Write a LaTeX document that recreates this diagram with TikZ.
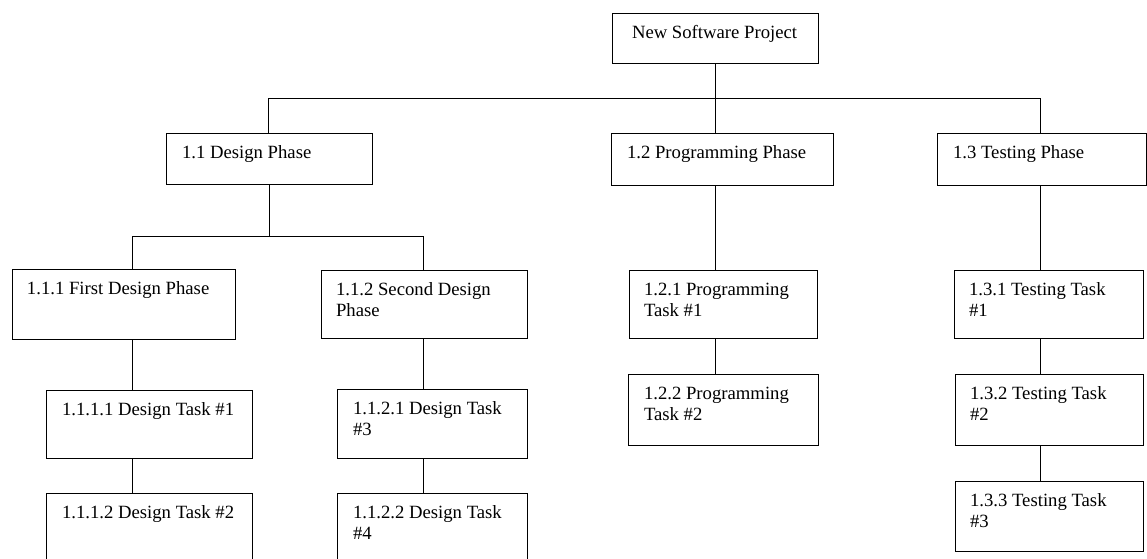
\documentclass[tikz,border=0pt]{standalone}
\usepackage{fontspec}
\setmainfont{Liberation Serif}
\usetikzlibrary{calc}
\tikzset{
  box/.style={draw, line width=1pt, inner sep=0pt, outer sep=0pt, anchor=north west},
  lbl/.style={inner sep=0pt, outer sep=0pt, anchor=north west, align=left,
              font=\fontsize{18.7}{21.5}\selectfont},
  conn/.style={line width=1pt}
}
\begin{document}
\begin{tikzpicture}[x=1pt, y=-1pt]
\useasboundingbox (0,0) rectangle (1147,558);
% boxes
\node[box, minimum width=206pt, minimum height=50pt] (root) at (612,13) {};
\node[box, minimum width=206pt, minimum height=51pt] (d11) at (166,133) {};
\node[box, minimum width=222pt, minimum height=52pt] (p12) at (611,133) {};
\node[box, minimum width=209pt, minimum height=52pt] (t13) at (937,133) {};
\node[box, minimum width=223pt, minimum height=70pt] (d111) at (12,269) {};
\node[box, minimum width=206pt, minimum height=68pt] (d112) at (321,270) {};
\node[box, minimum width=206pt, minimum height=68pt] (d1111) at (46,390) {};
\node[box, minimum width=206pt, minimum height=100pt] (d1112) at (46,493) {};
\node[box, minimum width=190pt, minimum height=69pt] (d1121) at (337,389) {};
\node[box, minimum width=190pt, minimum height=100pt] (d1122) at (337,493) {};
\node[box, minimum width=188pt, minimum height=68pt] (p121) at (629,270) {};
\node[box, minimum width=190pt, minimum height=71pt] (p122) at (628,374) {};
\node[box, minimum width=189pt, minimum height=68pt] (t131) at (954,270) {};
\node[box, minimum width=188pt, minimum height=71pt] (t132) at (955,374) {};
\node[box, minimum width=188pt, minimum height=70pt] (t133) at (955,481) {};
% labels
\node[lbl] (rootT) at ($(root.north west)+(20,10)$) {\strut New Software Project};
\node[lbl] (d11T) at ($(d11.north west)+(16,10)$) {\strut 1.1 Design Phase};
\node[lbl] (p12T) at ($(p12.north west)+(16,10)$) {\strut 1.2 Programming Phase};
\node[lbl] (t13T) at ($(t13.north west)+(16,10)$) {\strut 1.3 Testing Phase};
\node[lbl] (d111T) at ($(d111.north west)+(15,10)$) {\strut 1.1.1 First Design Phase};
\node[lbl] (d112T) at ($(d112.north west)+(15,10)$) {\strut 1.1.2 Second Design\\Phase};
\node[lbl] (d1111T) at ($(d1111.north west)+(16,10)$) {\strut 1.1.1.1 Design Task \#1};
\node[lbl] (d1112T) at ($(d1112.north west)+(16,10)$) {\strut 1.1.1.2 Design Task \#2};
\node[lbl] (d1121T) at ($(d1121.north west)+(16,10)$) {\strut 1.1.2.1 Design Task\\\#3};
\node[lbl] (d1122T) at ($(d1122.north west)+(16,10)$) {\strut 1.1.2.2 Design Task\\\#4};
\node[lbl] (p121T) at ($(p121.north west)+(15,10)$) {\strut 1.2.1 Programming\\Task \#1};
\node[lbl] (p122T) at ($(p122.north west)+(16,10)$) {\strut 1.2.2 Programming\\Task \#2};
\node[lbl] (t131T) at ($(t131.north west)+(15,10)$) {\strut 1.3.1 Testing Task\\\#1};
\node[lbl] (t132T) at ($(t132.north west)+(15,10)$) {\strut 1.3.2 Testing Task\\\#2};
\node[lbl] (t133T) at ($(t133.north west)+(15,10)$) {\strut 1.3.3 Testing Task\\\#3};
% bus coordinates
\coordinate (bus1) at (715,98);
\coordinate (bus1L) at (268,98);
\coordinate (bus1R) at (1040,98);
\coordinate (bus2) at (269,236);
\coordinate (bus2L) at (132,236);
\coordinate (bus2R) at (423,236);
% connectors
\draw[conn] (root.south -| bus1) -- (bus1);
\draw[conn] (d11.north -| bus1L) -- (bus1L) -- (bus1R) -- (t13.north -| bus1R);
\draw[conn] (bus1) -- (p12.north -| bus1);
\draw[conn] (d11.south -| bus2) -- (bus2);
\draw[conn] (d111.north -| bus2L) -- (bus2L) -- (bus2R) -- (d112.north -| bus2R);
\draw[conn] (d111.south -| bus2L) -- (d1111.north -| bus2L);
\draw[conn] (d1111.south -| bus2L) -- (d1112.north -| bus2L);
\draw[conn] (d112.south -| bus2R) -- (d1121.north -| bus2R);
\draw[conn] (d1121.south -| bus2R) -- (d1122.north -| bus2R);
\draw[conn] (p12.south -| bus1) -- (p121.north -| bus1);
\draw[conn] (p121.south -| bus1) -- (p122.north -| bus1);
\draw[conn] (t13.south -| bus1R) -- (t131.north -| bus1R);
\draw[conn] (t131.south -| bus1R) -- (t132.north -| bus1R);
\draw[conn] (t132.south -| bus1R) -- (t133.north -| bus1R);
\end{tikzpicture}
\end{document}
